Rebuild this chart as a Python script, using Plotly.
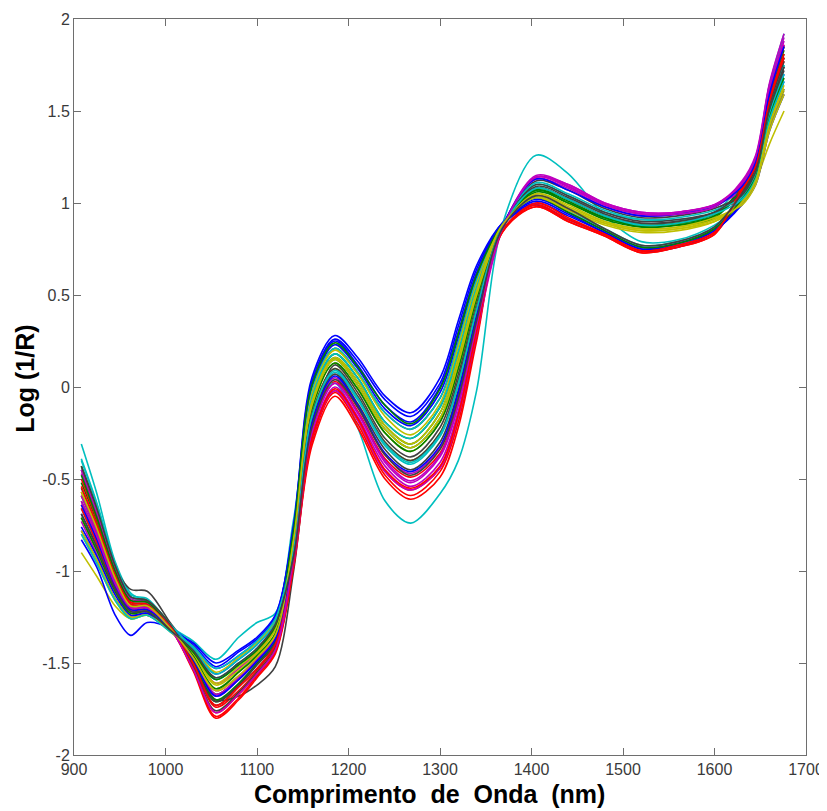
import plotly.graph_objects as go

wavelength_nm = [908, 925, 945, 962, 980, 1005, 1030, 1055, 1080, 1100, 1120, 1140, 1160, 1185,
                 1210, 1240, 1268, 1300, 1320, 1340, 1368, 1405, 1440, 1480, 1520, 1560, 1600,
                 1630, 1645, 1660, 1676]

# Log(1/R) spectra
spectrum_01 = [-0.78, -0.94, -1.15, -1.25, -1.24, -1.32, -1.41, -1.53, -1.46, -1.38, -1.26, -0.78, -0.01, 0.23, 0.10, -0.12, -0.21, -0.03, 0.27, 0.60, 0.88, 0.99, 0.91, 0.83, 0.74, 0.76, 0.84, 1.02, 1.13, 1.45, 1.66]
spectrum_02 = [-0.52, -0.73, -1.02, -1.17, -1.18, -1.30, -1.47, -1.67, -1.58, -1.48, -1.36, -0.84, -0.10, 0.15, 0.01, -0.23, -0.33, -0.17, 0.13, 0.50, 0.87, 1.08, 1.02, 0.93, 0.88, 0.89, 0.94, 1.08, 1.21, 1.56, 1.81]
spectrum_03 = [-0.64, -0.83, -1.08, -1.21, -1.21, -1.31, -1.51, -1.74, -1.65, -1.54, -1.41, -0.92, -0.23, 0.03, -0.13, -0.39, -0.49, -0.36, -0.08, 0.35, 0.86, 1.14, 1.09, 0.99, 0.94, 0.94, 0.98, 1.10, 1.23, 1.61, 1.86]
spectrum_04 = [-0.31, -0.58, -0.95, -1.12, -1.17, -1.30, -1.38, -1.48, -1.36, -1.28, -1.23, -0.72, -0.12, 0.02, -0.22, -0.62, -0.74, -0.58, -0.40, -0.02, 0.88, 1.26, 1.16, 0.93, 0.79, 0.80, 0.88, 1.00, 1.12, 1.45, 1.75]
spectrum_05 = [-0.47, -0.70, -1.00, -1.16, -1.17, -1.30, -1.44, -1.61, -1.53, -1.44, -1.31, -0.95, -0.27, 0.00, -0.16, -0.43, -0.54, -0.41, -0.13, 0.31, 0.86, 1.15, 1.10, 1.00, 0.95, 0.95, 0.99, 1.11, 1.25, 1.64, 1.90]
spectrum_06 = [-0.90, -1.03, -1.19, -1.26, -1.24, -1.32, -1.46, -1.64, -1.55, -1.46, -1.34, -0.88, -0.15, 0.10, -0.05, -0.30, -0.40, -0.25, 0.04, 0.43, 0.87, 1.04, 0.97, 0.89, 0.85, 0.86, 0.90, 0.99, 1.12, 1.32, 1.50]
spectrum_07 = [-0.45, -0.68, -0.98, -1.10, -1.11, -1.28, -1.45, -1.70, -1.68, -1.62, -1.52, -1.00, -0.25, 0.12, -0.03, -0.28, -0.38, -0.22, 0.07, 0.46, 0.87, 1.08, 1.02, 0.93, 0.89, 0.90, 0.94, 1.05, 1.17, 1.50, 1.74]
spectrum_08 = [-0.69, -0.87, -1.10, -1.22, -1.22, -1.32, -1.42, -1.56, -1.48, -1.40, -1.28, -0.76, 0.03, 0.26, 0.14, -0.07, -0.16, 0.02, 0.33, 0.64, 0.89, 1.02, 0.95, 0.85, 0.76, 0.78, 0.86, 1.03, 1.15, 1.48, 1.70]
spectrum_09 = [-0.43, -0.66, -0.97, -1.14, -1.16, -1.29, -1.50, -1.71, -1.62, -1.51, -1.39, -0.82, -0.06, 0.18, 0.05, -0.19, -0.28, -0.11, 0.19, 0.54, 0.88, 1.07, 1.00, 0.92, 0.87, 0.88, 0.93, 1.09, 1.22, 1.59, 1.85]
spectrum_10 = [-0.57, -0.77, -1.04, -1.19, -1.19, -1.31, -1.53, -1.79, -1.69, -1.57, -1.44, -0.97, -0.30, -0.03, -0.20, -0.48, -0.59, -0.46, -0.19, 0.27, 0.85, 0.98, 0.90, 0.82, 0.73, 0.76, 0.83, 1.06, 1.19, 1.53, 1.77]
spectrum_11 = [-0.40, -0.64, -0.96, -1.14, -1.16, -1.29, -1.44, -1.59, -1.51, -1.43, -1.30, -0.89, -0.17, 0.08, -0.07, -0.32, -0.42, -0.27, 0.01, 0.41, 0.87, 1.10, 1.04, 0.95, 0.91, 0.91, 0.95, 1.11, 1.24, 1.64, 1.92]
spectrum_12 = [-0.73, -0.91, -1.12, -1.24, -1.23, -1.32, -1.48, -1.68, -1.59, -1.49, -1.37, -0.91, -0.21, 0.05, -0.11, -0.37, -0.47, -0.33, -0.05, 0.37, 0.87, 1.14, 1.09, 0.99, 0.94, 0.95, 0.99, 1.07, 1.20, 1.55, 1.79]
spectrum_13 = [-0.80, -0.96, -1.16, -1.26, -1.24, -1.33, -1.45, -1.62, -1.54, -1.45, -1.32, -0.85, -0.12, 0.13, -0.01, -0.25, -0.35, -0.19, 0.10, 0.48, 0.87, 1.05, 0.98, 0.90, 0.86, 0.87, 0.91, 0.99, 1.11, 1.40, 1.61]
spectrum_14 = [-0.55, -0.75, -1.03, -1.18, -1.19, -1.30, -1.52, -1.76, -1.66, -1.55, -1.42, -0.80, -0.02, 0.21, 0.08, -0.14, -0.23, -0.06, 0.24, 0.58, 0.88, 1.12, 1.07, 0.97, 0.92, 0.93, 0.97, 1.05, 1.17, 1.51, 1.74]
spectrum_15 = [-0.83, -0.98, -1.24, -1.35, -1.28, -1.31, -1.40, -1.52, -1.44, -1.37, -1.25, -0.75, 0.05, 0.28, 0.16, -0.05, -0.14, 0.05, 0.36, 0.66, 0.89, 1.00, 0.93, 0.84, 0.75, 0.77, 0.85, 1.00, 1.12, 1.42, 1.62]
spectrum_16 = [-0.59, -0.79, -1.05, -1.19, -1.20, -1.31, -1.49, -1.70, -1.61, -1.50, -1.38, -0.83, -0.08, 0.16, 0.03, -0.21, -0.31, -0.14, 0.16, 0.52, 0.88, 1.06, 1.00, 0.91, 0.87, 0.88, 0.92, 1.08, 1.22, 1.58, 1.83]
spectrum_17 = [-0.50, -0.72, -1.01, -1.17, -1.18, -1.30, -1.53, -1.77, -1.67, -1.56, -1.43, -0.96, -0.28, -0.02, -0.18, -0.46, -0.56, -0.44, -0.16, 0.29, 0.84, 0.98, 0.90, 0.82, 0.73, 0.76, 0.83, 1.09, 1.22, 1.59, 1.85]
spectrum_18 = [-0.66, -0.85, -1.09, -1.21, -1.21, -1.31, -1.43, -1.58, -1.50, -1.42, -1.29, -0.80, -0.02, 0.21, 0.08, -0.14, -0.23, -0.06, 0.24, 0.58, 0.88, 1.03, 0.96, 0.86, 0.77, 0.79, 0.87, 1.05, 1.18, 1.52, 1.75]
spectrum_19 = [-0.45, -0.68, -0.99, -1.15, -1.17, -1.30, -1.47, -1.65, -1.57, -1.47, -1.35, -0.93, -0.25, 0.02, -0.14, -0.41, -0.52, -0.38, -0.10, 0.33, 0.86, 1.13, 1.08, 0.98, 0.93, 0.94, 0.98, 1.11, 1.24, 1.62, 1.88]
spectrum_20 = [-0.71, -0.89, -1.11, -1.23, -1.22, -1.32, -1.41, -1.55, -1.47, -1.39, -1.27, -0.81, -0.04, 0.20, 0.07, -0.16, -0.26, -0.09, 0.22, 0.56, 0.88, 1.04, 0.97, 0.89, 0.85, 0.86, 0.91, 1.01, 1.13, 1.43, 1.64]
spectrum_21 = [-0.62, -0.81, -1.07, -1.20, -1.20, -1.31, -1.50, -1.73, -1.63, -1.53, -1.40, -0.90, -0.19, 0.07, -0.09, -0.34, -0.45, -0.30, -0.02, 0.39, 0.87, 1.10, 1.04, 0.95, 0.90, 0.91, 0.95, 1.04, 1.16, 1.49, 1.72]
spectrum_22 = [-0.76, -0.92, -1.13, -1.24, -1.23, -1.32, -1.39, -1.50, -1.43, -1.36, -1.24, -0.77, 0.01, 0.25, 0.12, -0.10, -0.19, 0.00, 0.30, 0.62, 0.89, 1.01, 0.94, 0.84, 0.75, 0.78, 0.85, 0.99, 1.10, 1.39, 1.59]
spectrum_23 = [-0.48, -0.71, -1.00, -1.16, -1.17, -1.30, -1.46, -1.64, -1.55, -1.46, -1.34, -0.85, -0.12, 0.13, -0.01, -0.25, -0.35, -0.19, 0.10, 0.48, 0.87, 1.07, 1.01, 0.92, 0.88, 0.89, 0.93, 1.07, 1.20, 1.55, 1.79]
spectrum_24 = [-0.66, -0.85, -1.09, -1.21, -1.21, -1.31, -1.54, -1.80, -1.70, -1.58, -1.45, -0.98, -0.32, -0.05, -0.22, -0.50, -0.61, -0.49, -0.22, 0.25, 0.85, 0.99, 0.91, 0.83, 0.74, 0.77, 0.84, 1.08, 1.21, 1.56, 1.81]
spectrum_25 = [-0.39, -0.63, -0.96, -1.13, -1.15, -1.29, -1.42, -1.56, -1.48, -1.40, -1.28, -0.82, -0.06, 0.18, 0.05, -0.19, -0.28, -0.11, 0.19, 0.54, 0.88, 1.11, 1.05, 0.96, 0.91, 0.92, 0.96, 1.03, 1.15, 1.48, 1.70]
spectrum_26 = [-0.59, -0.79, -1.05, -1.19, -1.20, -1.31, -1.47, -1.67, -1.58, -1.48, -1.36, -0.96, -0.28, -0.02, -0.18, -0.46, -0.56, -0.44, -0.16, 0.29, 0.85, 1.14, 1.10, 1.00, 0.95, 0.95, 0.99, 1.10, 1.23, 1.61, 1.86]
spectrum_27 = [-0.78, -0.94, -1.15, -1.25, -1.24, -1.32, -1.44, -1.61, -1.52, -1.44, -1.31, -0.84, -0.10, 0.15, 0.01, -0.23, -0.33, -0.17, 0.13, 0.50, 0.87, 1.05, 0.99, 0.90, 0.86, 0.87, 0.92, 0.99, 1.10, 1.39, 1.59]
spectrum_28 = [-0.43, -0.66, -0.97, -1.14, -1.16, -1.29, -1.50, -1.71, -1.62, -1.51, -1.39, -0.88, -0.15, 0.10, -0.05, -0.30, -0.40, -0.25, 0.04, 0.43, 0.87, 1.09, 1.03, 0.94, 0.89, 0.90, 0.95, 1.06, 1.19, 1.53, 1.77]
spectrum_29 = [-0.64, -0.83, -1.08, -1.21, -1.21, -1.31, -1.48, -1.68, -1.59, -1.49, -1.37, -0.91, -0.20, 0.06, -0.10, -0.36, -0.46, -0.32, -0.03, 0.38, 0.87, 1.13, 1.07, 0.98, 0.93, 0.94, 0.98, 1.09, 1.22, 1.59, 1.85]
spectrum_30 = [-0.71, -0.89, -1.11, -1.23, -1.22, -1.32, -1.44, -1.59, -1.51, -1.43, -1.30, -0.78, 0.01, 0.24, 0.11, -0.10, -0.20, -0.01, 0.29, 0.61, 0.88, 1.03, 0.95, 0.85, 0.76, 0.78, 0.86, 1.02, 1.14, 1.46, 1.68]
spectrum_31 = [-0.54, -0.75, -1.03, -1.18, -1.19, -1.30, -1.50, -1.73, -1.63, -1.53, -1.40, -0.95, -0.28, -0.01, -0.17, -0.45, -0.55, -0.43, -0.15, 0.30, 0.84, 1.00, 0.92, 0.83, 0.74, 0.77, 0.84, 1.07, 1.20, 1.55, 1.79]
spectrum_32 = [-0.80, -0.96, -1.16, -1.26, -1.24, -1.33, -1.41, -1.53, -1.46, -1.38, -1.26, -0.88, -0.16, 0.09, -0.06, -0.31, -0.41, -0.26, 0.02, 0.42, 0.87, 1.08, 1.02, 0.93, 0.88, 0.89, 0.94, 1.02, 1.13, 1.45, 1.66]
spectrum_33 = [-0.62, -0.81, -1.07, -1.20, -1.20, -1.31, -1.53, -1.77, -1.67, -1.56, -1.43, -0.93, -0.24, 0.02, -0.14, -0.40, -0.51, -0.37, -0.09, 0.34, 0.86, 1.14, 1.09, 0.99, 0.94, 0.94, 0.98, 1.12, 1.26, 1.65, 1.92]
spectrum_34 = [-0.57, -0.77, -1.04, -1.19, -1.19, -1.31, -1.47, -1.65, -1.57, -1.47, -1.35, -0.83, -0.08, 0.16, 0.03, -0.21, -0.31, -0.14, 0.16, 0.52, 0.88, 1.03, 0.96, 0.88, 0.84, 0.85, 0.90, 1.00, 1.12, 1.42, 1.62]
spectrum_35 = [-0.69, -0.87, -1.10, -1.22, -1.22, -1.32, -1.43, -1.58, -1.50, -1.42, -1.29, -0.92, -0.22, 0.04, -0.11, -0.37, -0.48, -0.34, -0.06, 0.36, 0.86, 1.04, 0.97, 0.86, 0.77, 0.79, 0.87, 1.05, 1.17, 1.51, 1.74]

spectra = [spectrum_01, spectrum_02, spectrum_03, spectrum_04, spectrum_05, spectrum_06, spectrum_07,
           spectrum_08, spectrum_09, spectrum_10, spectrum_11, spectrum_12, spectrum_13, spectrum_14,
           spectrum_15, spectrum_16, spectrum_17, spectrum_18, spectrum_19, spectrum_20, spectrum_21,
           spectrum_22, spectrum_23, spectrum_24, spectrum_25, spectrum_26, spectrum_27, spectrum_28,
           spectrum_29, spectrum_30, spectrum_31, spectrum_32, spectrum_33, spectrum_34, spectrum_35]

# Classic MATLAB colour order (b, g, r, c, m, y, k)
line_colors = ["#0000FF", "#008000", "#FF0000", "#00BFBF", "#BF00BF", "#BFBF00", "#404040"]

x_ticks = [900, 1000, 1100, 1200, 1300, 1400, 1500, 1600, 1700]
x_tick_labels = ["900", "1000", "1100", "1200", "1300", "1400", "1500", "1600", "1700"]
y_ticks = [-2, -1.5, -1, -0.5, 0, 0.5, 1, 1.5, 2]
y_tick_labels = ["-2", "-1.5", "-1", "-0.5", "0", "0.5", "1", "1.5", "2"]

x_title = "Comprimento&nbsp; de&nbsp; Onda&nbsp; (nm)"
y_title = "Log (1/R)"

fig = go.Figure()
for i, s in enumerate(spectra):
    fig.add_trace(go.Scatter(
        x=wavelength_nm, y=s, mode="lines",
        line=dict(color=line_colors[i % len(line_colors)], width=1.6, shape="spline", smoothing=0.9),
        showlegend=False, hoverinfo="skip"))

axis_common = dict(
    showgrid=False, zeroline=False, showline=True, linecolor="#6e6e6e", linewidth=1,
    mirror="ticks", ticks="inside", ticklen=7, tickcolor="#6e6e6e", tickwidth=1,
    automargin=False,
    tickfont=dict(family="Liberation Sans, Arial, sans-serif", size=16, color="#3a3a3a"),
)

# The page body has an 8px default margin, so the figure is sized/offset to land the
# plot box at the reference position (x 74..806, y 19..755 in the window).
fig.update_layout(
    width=819, height=803,
    margin=dict(l=66, r=21, t=11, b=56, autoexpand=False),
    paper_bgcolor="white", plot_bgcolor="white",
    xaxis=dict(range=[900, 1700], tickmode="array", tickvals=x_ticks, ticktext=x_tick_labels,
               **axis_common),
    yaxis=dict(range=[-2, 2], tickmode="array", tickvals=y_ticks, ticktext=y_tick_labels, **axis_common),
    annotations=[
        dict(text="<b>" + x_title + "</b>", xref="paper", yref="paper", x=0.485, y=-0.0745,
             xanchor="center", yanchor="bottom", showarrow=False,
             font=dict(family="Liberation Sans, Arial, sans-serif", size=25, color="#000000")),
        dict(text="<b>" + y_title + "</b>", xref="paper", yref="paper", x=-0.068, y=0.5115,
             xanchor="center", yanchor="middle", showarrow=False, textangle=-90,
             font=dict(family="Liberation Sans, Arial, sans-serif", size=25, color="#000000")),
    ],
)

fig.write_html("out.html")
